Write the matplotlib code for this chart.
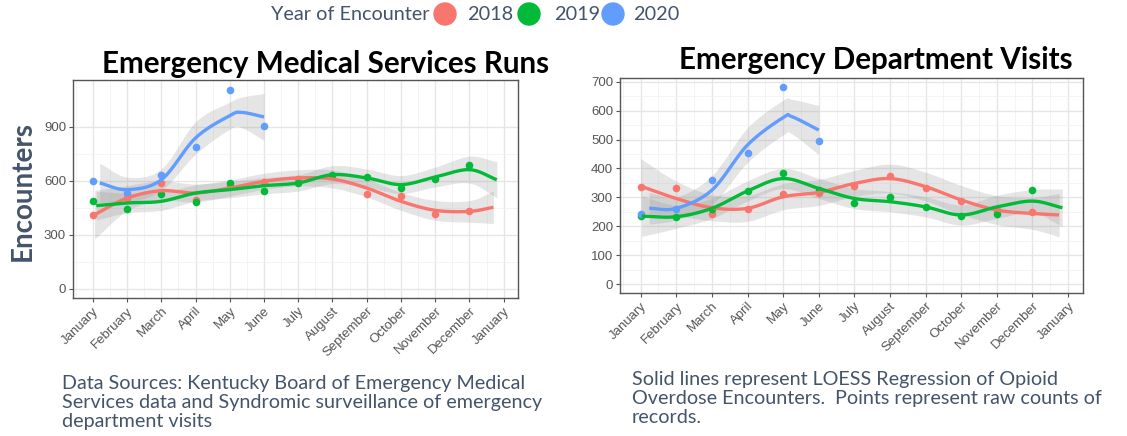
import numpy as np
import matplotlib
matplotlib.use("Agg")
import matplotlib.pyplot as plt

# colours (ggplot defaults)
RED, GREEN, BLUE = "#F8766D", "#00BA38", "#619CFF"
TXT = "#44546A"
FONT = "Lato"

month_labels = ["January", "February", "March", "April", "May", "June", "July",
                "August", "September", "October", "November", "December", "January"]
months = np.arange(12)

# ---- EMS runs: raw monthly points ----
ems_2018 = [409, 505, 589, 496, 572, 594, 612, 628, 530, 518, 415, 433]
ems_2019 = [487, 443, 530, 483, 589, 544, 589, 635, 622, 559, 611, 689]
ems_2020 = [598, 535, 635, 789, 1107, 905]

# EMS loess curves read at nodes (month index), with band half-widths
ems_red_x = [0.05, 1, 2, 3, 4, 5, 6, 7, 8, 9, 10, 11, 11.7]
ems_red_y = [413, 505, 546, 533, 561, 598, 617, 611, 561, 487, 437, 431, 454]
ems_red_se = [135, 70, 55, 50, 45, 45, 45, 50, 50, 50, 55, 60, 90]
ems_green_x = [0.1, 1, 2, 3, 4, 5, 6, 7, 8, 9, 10, 11, 11.8]
ems_green_y = [463, 478, 487, 533, 552, 574, 589, 635, 617, 580, 622, 663, 607]
ems_green_se = [80, 55, 50, 45, 45, 45, 45, 50, 50, 50, 55, 75, 100]
ems_blue_x = [0.2, 1, 2, 3, 4, 4.35, 5]
ems_blue_y = [589, 552, 607, 839, 963, 981, 956]
ems_blue_se = [110, 70, 60, 90, 75, 85, 130]

# ---- ED visits: raw monthly points ----
ed_2018 = [337, 331, 244, 259, 310, 314, 339, 375, 333, 288, 256, 248]
ed_2019 = [235, 233, 259, 322, 383, 327, 281, 302, 267, 235, 242, 327]
ed_2020 = [241, 258, 360, 455, 683, 496]

ed_red_x = [0.0, 1, 2, 3, 4, 5, 6, 7, 8, 9, 10, 11, 11.75]
ed_red_y = [339, 296, 264, 262, 302, 317, 348, 365, 337, 291, 256, 244, 239]
ed_red_se = [95, 60, 45, 45, 45, 45, 45, 50, 50, 50, 50, 55, 75]
ed_green_x = [0.03, 1, 2, 3, 4, 5, 6, 7, 8, 9, 10, 11, 11.84]
ed_green_y = [235, 233, 262, 322, 365, 331, 296, 285, 267, 239, 267, 287, 264]
ed_green_se = [70, 40, 35, 35, 35, 35, 35, 35, 35, 35, 40, 40, 65]
ed_blue_x = [0.24, 1, 2, 3, 4, 4.25, 5]
ed_blue_y = [262, 262, 325, 481, 576, 579, 533]
ed_blue_se = [55, 40, 50, 60, 60, 60, 85]


def smooth(x, y, n=20):
    # Catmull-Rom rendering through the read-off nodes
    x = np.asarray(x, float)
    y = np.asarray(y, float)
    px = np.concatenate([[2 * x[0] - x[1]], x, [2 * x[-1] - x[-2]]])
    py = np.concatenate([[2 * y[0] - y[1]], y, [2 * y[-1] - y[-2]]])
    xs, ys = [], []
    t = np.linspace(0, 1, n, endpoint=False)
    for i in range(1, len(px) - 2):
        for arr, out in ((px, xs), (py, ys)):
            p0, p1, p2, p3 = arr[i - 1], arr[i], arr[i + 1], arr[i + 2]
            out.extend(0.5 * (2 * p1 + (-p0 + p2) * t + (2 * p0 - 5 * p1 + 4 * p2 - p3) * t ** 2
                              + (-p0 + 3 * p1 - 3 * p2 + p3) * t ** 3))
    xs.append(x[-1])
    ys.append(y[-1])
    return np.array(xs), np.array(ys)


def panel(ax, pts, curves, ylim, yticks):
    for (cx, cy, se, col) in curves:
        sx, sy = smooth(cx, cy)
        _, ss = smooth(cx, se)
        ax.fill_between(sx, sy - ss, sy + ss, color="#999999", alpha=0.25, lw=0, zorder=2)
    for (cx, cy, se, col) in curves:
        sx, sy = smooth(cx, cy)
        ax.plot(sx, sy, color=col, lw=2.4, zorder=4, solid_capstyle="butt")
    for vals, col in pts:
        ax.scatter(months[:len(vals)], vals, s=30, color=col, zorder=3, lw=0)
    ax.set_xlim(-0.58, 12.42)
    ax.set_ylim(*ylim)
    ax.set_xticks(np.arange(13))
    ax.set_xticklabels(month_labels, rotation=45, ha="right", rotation_mode="anchor",
                       fontsize=9.5, color="#555555", family="Liberation Sans")
    ax.set_xticks(np.arange(13) - 0.5, minor=True)
    ax.set_yticks(yticks)
    ax.set_yticklabels([str(v) for v in yticks], fontsize=9.5, color="#555555", family="Liberation Sans")
    step = yticks[1] - yticks[0]
    ax.set_yticks(np.array(yticks[:-1]) + step / 2, minor=True)
    ax.grid(True, which="major", color="#E6E6E6", lw=1.0, zorder=0)
    ax.grid(True, which="minor", color="#F2F2F2", lw=0.6, zorder=0)
    ax.set_axisbelow(True)
    ax.tick_params(which="major", length=3, color="#555555", pad=2)
    ax.tick_params(which="minor", length=0)
    for s in ax.spines.values():
        s.set_color("#555555")
        s.set_linewidth(1.0)


fig = plt.figure(figsize=(11.27, 4.36), dpi=100)
W, H = 1127, 436

ax1 = fig.add_axes([73 / W, 1 - 298 / H, (518 - 73) / W, (298 - 80) / H])
ax2 = fig.add_axes([620 / W, 1 - 293 / H, (1083 - 620) / W, (293 - 78) / H])

panel(ax1, [(ems_2018, RED), (ems_2019, GREEN), (ems_2020, BLUE)],
      [(ems_red_x, ems_red_y, ems_red_se, RED),
       (ems_green_x, ems_green_y, ems_green_se, GREEN),
       (ems_blue_x, ems_blue_y, ems_blue_se, BLUE)],
      (-50, 1161), [0, 300, 600, 900])
panel(ax2, [(ed_2018, RED), (ed_2019, GREEN), (ed_2020, BLUE)],
      [(ed_red_x, ed_red_y, ed_red_se, RED),
       (ed_green_x, ed_green_y, ed_green_se, GREEN),
       (ed_blue_x, ed_blue_y, ed_blue_se, BLUE)],
      (-31, 713), [0, 100, 200, 300, 400, 500, 600, 700])

# titles
fig.text(326 / W, 1 - 64 / H, "Emergency Medical Services Runs", ha="center", va="center",
         fontsize=21.3, fontweight="bold", family=FONT, color="black")
fig.text(876 / W, 1 - 60 / H, "Emergency Department Visits", ha="center", va="center",
         fontsize=21.3, fontweight="bold", family=FONT, color="black")

# y label
fig.text(23 / W, 1 - 191 / H, "Encounters", rotation=90, ha="center", va="center",
         fontsize=20, fontweight="bold", family=FONT, color=TXT)

# legend
fig.text(271 / W, 1 - 14 / H, "Year of Encounter", ha="left", va="center",
         fontsize=14.3, family=FONT, color=TXT)
for xc, xt, col, lab in [(445, 467, RED, "2018"), (529, 554, GREEN, "2019"), (613, 633, BLUE, "2020")]:
    fig.patches.append(matplotlib.patches.Ellipse((xc / W, 1 - 14 / H), 22 / W, 22 / H,
                                                  transform=fig.transFigure, color=col))
    fig.text(xt / W, 1 - 14 / H, lab, ha="left", va="center",
             fontsize=14.3, family=FONT, color=TXT)

# captions
fig.text(62 / W, 1 - 375 / H,
         "Data Sources: Kentucky Board of Emergency Medical\n"
         "Services data and Syndromic surveillance of emergency\n"
         "department visits",
         ha="left", va="top", fontsize=14.2, family=FONT, color=TXT, linespacing=1.15)
fig.text(632 / W, 1 - 371 / H,
         "Solid lines represent LOESS Regression of Opioid\n"
         "Overdose Encounters.  Points represent raw counts of\n"
         "records.",
         ha="left", va="top", fontsize=14.2, family=FONT, color=TXT, linespacing=1.15)

fig.savefig("out.png", dpi=100)
